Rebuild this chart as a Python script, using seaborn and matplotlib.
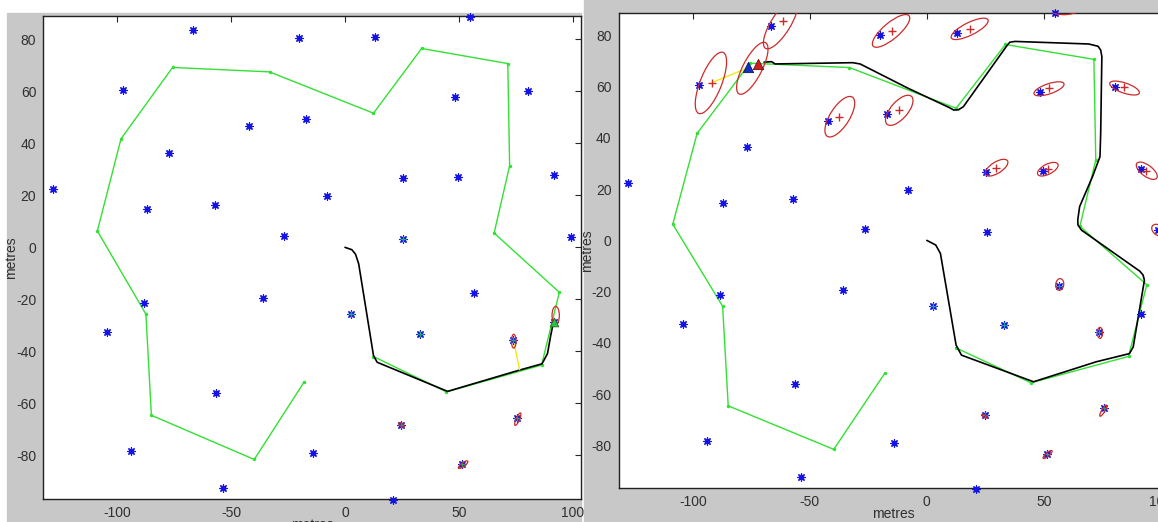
import numpy as np
import pandas as pd
import matplotlib
matplotlib.use("Agg")
import matplotlib.pyplot as plt
from matplotlib.patches import Ellipse, Rectangle
import seaborn as sns

# --- landmarks (true positions, blue asterisks) ---
lm_x = [-127.9, -66.6, -20.0, 13.0, 54.7, -97.4, 48.2, 80.4, -42.2, -16.9, -77.0, 25.3,
        49.5, 91.6, -8.0, -57.0, -87.0, -26.6, 25.6, 98.9, 56.5, -35.9, -88.3, 2.6,
        -104.4, 32.8, 73.7, 91.6, -56.5, 24.7, 75.6, -94.0, -14.1, 51.5, -53.7, 21.1]
lm_y = [22.5, 83.7, 80.4, 81.0, 88.7, 60.6, 58.0, 60.0, 46.5, 49.2, 36.3, 26.7,
        27.0, 28.0, 19.8, 16.3, 14.8, 4.5, 3.2, 3.9, -17.7, -19.3, -21.4, -25.8,
        -32.5, -33.2, -35.8, -28.6, -56.0, -68.3, -65.6, -78.3, -79.2, -83.3, -92.4, -97.0]

# --- waypoints (green) ---
wp_x = [12.5, 44.5, 86.2, 94.0, 65.4, 72.2, 71.4, 33.6, 12.5, -33.1, -75.6, -98.2,
        -108.6, -87.3, -84.9, -39.8, -18.0]
wp_y = [-42.0, -55.6, -45.3, -17.3, 5.5, 31.4, 70.7, 76.5, 51.6, 67.5, 69.2, 41.8,
        6.3, -25.7, -64.6, -81.6, -51.9]

# --- vehicle path, early snapshot (left) ---
path1_x = [0.0, 3.0, 4.6, 6.0, 12.5, 14.1, 45.0, 75.8, 86.4, 88.8, 90.2, 91.6]
path1_y = [0.0, -0.9, -2.6, -6.3, -41.6, -44.2, -55.4, -47.4, -44.8, -40.9, -34.0, -28.0]

# --- vehicle path, late snapshot (right) ---
path2_x = [0.0, 3.8, 5.8, 12.5, 14.8, 45.6, 72.4, 86.6, 88.2, 93.0, 92.4, 91.0, 66.1,
           64.6, 64.5, 65.3, 70.8, 74.0, 74.3, 74.8, 74.3, 73.2, 69.2, 37.7, 35.5, 34.5,
           15.6, 13.5, 11.5, 9.3, -8.0, -28.5, -31.7, -64.8, -66.4, -69.6]
path2_y = [0.0, -1.8, -5.1, -40.9, -44.8, -55.2, -47.4, -44.2, -41.6, -15.5, -13.5, -12.0,
           4.0, 6.0, 8.0, 13.2, 24.9, 32.7, 41.8, 71.8, 74.3, 75.8, 76.7, 77.7, 77.4, 76.4,
           52.2, 51.0, 50.9, 52.0, 59.4, 68.9, 69.4, 68.9, 69.8, 69.6]

# --- covariance ellipses, left snapshot ---
ell1_x = [92.4, 74.0, 75.8, 24.8, 51.8]
ell1_y = [-26.2, -36.1, -66.1, -68.3, -83.6]
ell1_w = [3.2, 2.0, 5.3, 2.8, 4.9]
ell1_h = [7.0, 5.3, 1.5, 1.2, 1.5]
ell1_a = [0, 0, 63, -30, 33]

# --- covariance ellipses, right snapshot ---
ell2_x = [-92.3, -74.6, -62.5, -15.3, 18.3, 59.8, -37.2, -11.8, 52.2, 84.5, 29.8,
          51.7, 94.0, 98.9, 56.8, 74.0, 75.4, 24.6, 51.6]
ell2_y = [61.5, 67.2, 84.5, 81.8, 82.6, 90.7, 48.3, 50.8, 59.2, 59.5, 28.4,
          27.8, 27.2, 4.0, -17.2, -36.1, -66.5, -68.6, -83.6]
ell2_w = [26.0, 23.0, 23.0, 19.4, 17.2, 14.0, 18.7, 15.1, 13.4, 13.2, 10.8,
          9.5, 10.3, 6.0, 4.6, 4.3, 5.1, 2.5, 4.8]
ell2_h = [9.0, 8.0, 8.0, 6.5, 5.0, 5.0, 8.0, 7.0, 4.0, 4.0, 4.5,
          4.0, 4.5, 4.0, 3.4, 2.2, 1.3, 1.0, 1.4]
ell2_a = [66, 60, 55, 37, 24, 5, 54, 45, 17, -17, 29,
          24, -33, -30, 80, 90, 57, -30, 38]

# --- estimated landmarks (red +), right snapshot ---
est_x = [-92.0, -61.7, -15.0, 18.3, -37.5, -11.8, 52.2, 84.2, 29.5, 51.6, 93.7]
est_y = [61.6, 85.7, 81.8, 82.5, 48.3, 50.9, 59.4, 59.8, 28.4, 27.8, 27.2]

# --- landmarks with small-covariance estimates (green overlay) ---
obs1_x = [25.6, 2.6, 32.8, 73.7, 24.7, 75.6, 51.5, 91.6]
obs1_y = [3.2, -25.8, -33.2, -35.8, -68.3, -65.6, -83.3, -28.6]
obs2_x = [2.6, 32.8, 56.5, 73.7, 24.7, 75.6, 51.5]
obs2_y = [-25.8, -33.2, -17.7, -35.8, -68.3, -65.6, -83.3]

# --- observation lines (yellow) ---
obsline1_x = [74.2, 76.6]
obsline1_y = [-37.1, -47.1]
obsline2_x = [-91.4, -77.8]
obsline2_y = [61.8, 66.9]

# --- vehicle pose markers ---
veh1_x, veh1_y = [91.6], [-28.8]
veh2_true_x, veh2_true_y = [-76.4], [67.9]
veh2_est_x, veh2_est_y = [-72.1], [68.9]

sns.set_style("white")
plt.rcParams['font.family'] = ['Liberation Sans Narrow', 'Liberation Sans', 'DejaVu Sans']
plt.rcParams['axes.unicode_minus'] = False

W, H = 1158, 522
GREY = '#c8c8c8'
BLUE = '#1414e6'
GREEN = '#33e033'
RED = '#cc2a2a'
AST = (8, 2, 0)

fig = plt.figure(figsize=(W / 100, H / 100), dpi=100, facecolor='white')
fig.patches.append(Rectangle((7 / W, 0), (581 - 7) / W, (H - 13) / H,
                             transform=fig.transFigure, color=GREY, zorder=-10))
fig.patches.append(Rectangle((584 / W, 0), (W - 584) / W, 1,
                             transform=fig.transFigure, color=GREY, zorder=-10))

ax1 = fig.add_axes([43.3 / W, (H - 499) / H, (581 - 43.3) / W, (499 - 16.5) / H])
ax2 = fig.add_axes([618.5 / W, (H - 488.3) / H, (1169 - 618.5) / W, (488.3 - 13) / H])


def base_layer(ax, path_x, path_y):
    sns.lineplot(x=wp_x, y=wp_y, sort=False, estimator=None, color=GREEN, lw=1.0,
                 marker='o', markersize=2.5, markeredgewidth=0, ax=ax, zorder=2)
    sns.lineplot(x=path_x, y=path_y, sort=False, estimator=None, color='black', lw=1.2,
                 ax=ax, zorder=3)
    sns.scatterplot(x=lm_x, y=lm_y, marker=AST, color=BLUE, s=28, linewidth=0.9,
                    ax=ax, zorder=4, clip_on=False)


def style_axes(ax, xlim, ylab_x):
    ax.set_xlim(*xlim)
    ax.set_ylim(-96.8, 88.8)
    ax.set_xticks([-100, -50, 0, 50, 100])
    ax.set_yticks(np.arange(-80, 81, 20))
    ax.set_facecolor('white')
    for sp in ax.spines.values():
        sp.set_color('#202020')
        sp.set_linewidth(1.0)
    ax.tick_params(direction='in', length=4, width=0.8, top=True, right=True,
                   labelsize=10, labelcolor='#303030', pad=5)
    ax.set_xlabel('metres', fontsize=10, color='#303030')
    ax.set_ylabel('metres', fontsize=10, color='#303030')
    ax.xaxis.set_label_coords(0.5, -0.039)
    ax.yaxis.set_label_coords(ylab_x, 0.5)


# left snapshot
base_layer(ax1, path1_x, path1_y)
sns.scatterplot(x=obs1_x, y=obs1_y, marker='+', color='#20b060', s=22, linewidth=0.9,
                ax=ax1, zorder=5)
sns.lineplot(x=obsline1_x, y=obsline1_y, sort=False, estimator=None, color='#f2ea10',
             lw=1.0, ax=ax1, zorder=3)
for cx, cy, w, h, a in zip(ell1_x, ell1_y, ell1_w, ell1_h, ell1_a):
    ax1.add_patch(Ellipse((cx, cy), w, h, angle=a, fill=False, ec=RED, lw=0.9, zorder=6))
sns.scatterplot(x=veh1_x, y=veh1_y, marker='^', color='#30c040', edgecolor='#206020',
                s=40, ax=ax1, zorder=7)
style_axes(ax1, (-132.3, 103.5), -0.047)

# right snapshot
base_layer(ax2, path2_x, path2_y)
sns.scatterplot(x=obs2_x, y=obs2_y, marker='+', color='#20a0a0', s=20, linewidth=0.8,
                ax=ax2, zorder=5)
sns.lineplot(x=obsline2_x, y=obsline2_y, sort=False, estimator=None, color='#f2ea10',
             lw=1.0, ax=ax2, zorder=3)
for cx, cy, w, h, a in zip(ell2_x, ell2_y, ell2_w, ell2_h, ell2_a):
    ax2.add_patch(Ellipse((cx, cy), w, h, angle=a, fill=False, ec=RED, lw=0.9, zorder=6))
sns.scatterplot(x=est_x, y=est_y, marker='+', color=RED, s=40, linewidth=1.0,
                ax=ax2, zorder=6)
sns.scatterplot(x=veh2_true_x, y=veh2_true_y, marker='^', color='#1030c0',
                edgecolor='#101060', s=55, ax=ax2, zorder=7)
sns.scatterplot(x=veh2_est_x, y=veh2_est_y, marker='^', color='#d02020',
                edgecolor='#601010', s=55, ax=ax2, zorder=7)
style_axes(ax2, (-131.8, 103.5), -0.0445)

fig.savefig('out.png', dpi=100, facecolor='white')
